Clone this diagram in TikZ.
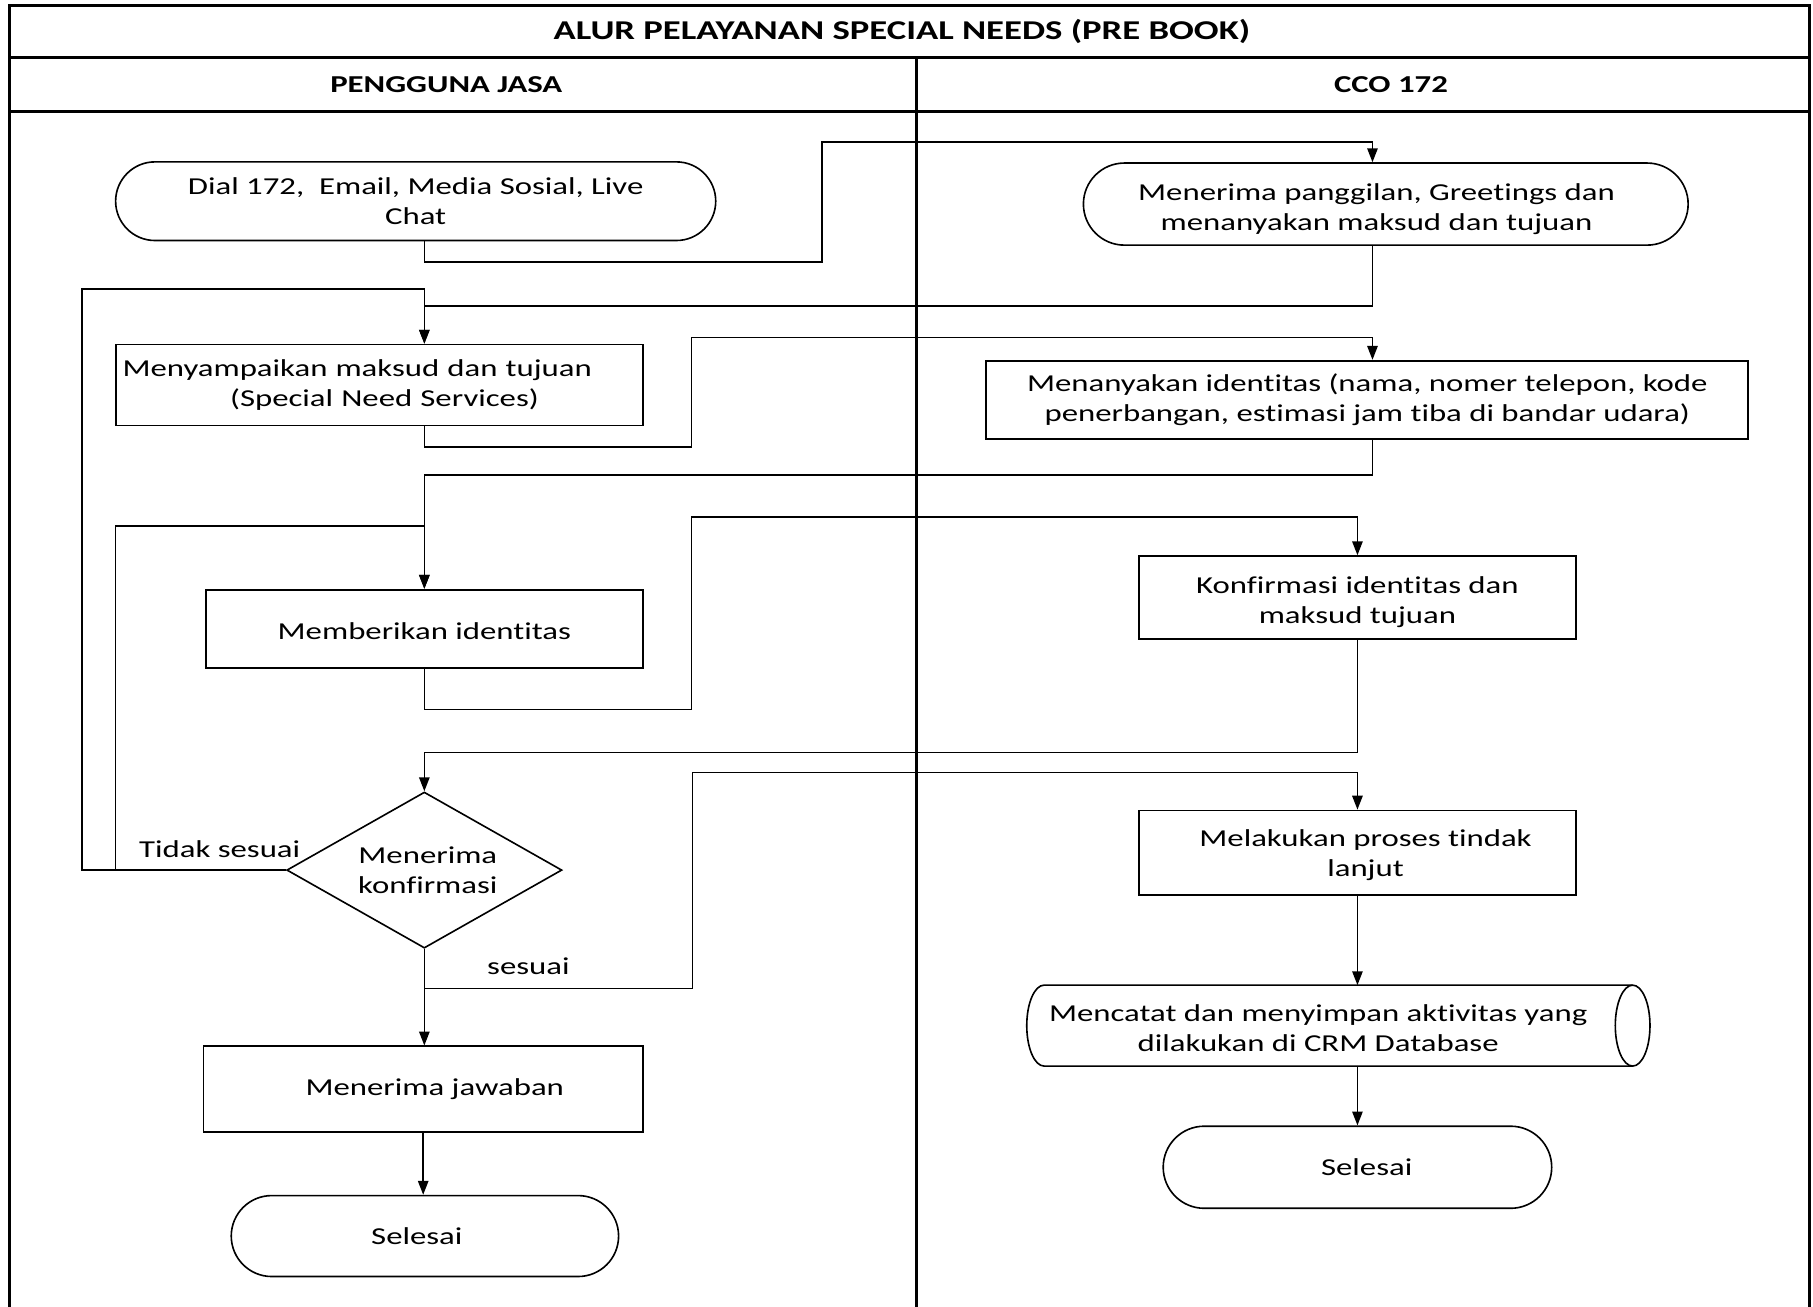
\documentclass[tikz,border=0pt]{standalone}
\usepackage{fontspec}
\setmainfont{Carlito}[FakeStretch=1.35,Ligatures=NoCommon]
\usetikzlibrary{arrows.meta,shapes.misc,shapes.geometric}
% lower a (possibly multi-line) label inside its box without changing the box
\newcommand\lowertext[2]{\raisebox{-#1}[\height][\depth]{\begin{tabular}{@{}c@{}}#2\end{tabular}}}

\begin{document}
\begin{tikzpicture}[x=1pt,y=-1pt,
  frame/.style={line width=2.6pt},
  conn/.style={line width=1.3pt},
  arr/.style={conn,-{Triangle[length=12pt,width=9pt]}},
  proc/.style={draw,line width=1.6pt,rectangle,inner sep=4pt,align=center},
  term/.style={draw,line width=1.4pt,rounded rectangle,inner sep=4pt,align=center},
  decide/.style={draw,line width=1.4pt,diamond,inner sep=0pt,align=center},
  lbl/.style={inner sep=0pt},
  hdr/.style={font=\fontsize{21}{26}\selectfont\bfseries},
  font=\fontsize{21}{26}\selectfont]

\useasboundingbox (0,0) rectangle (1568,1130);
\fill[white] (0,0) rectangle (1568,1130);
\clip (0,0) rectangle (1568,1130);

% swimlane frame
\draw[frame] (8,1140) -- (8,5) -- (1565,5) -- (1565,1140);
\draw[frame] (8,50) -- (1565,50);
\draw[frame] (8,96) -- (1565,96);
\draw[frame] (793,50) -- (793,1140);

\node[font=\fontsize{23.5}{28}\selectfont\bfseries] (title) at (780,27) {ALUR PELAYANAN SPECIAL NEEDS (PRE BOOK)};
\node[hdr] (laneA) at (386,73) {PENGGUNA JASA};
\node[hdr] (laneB) at (1203,73) {CCO 172};

% left lane
\node[term,minimum width=527pt,minimum height=68pt] (dial) at (359.5,174) {Dial 172,\ \ Email, Media Sosial, Live\\Chat};
\node[proc,text width=444pt,inner xsep=6pt,minimum height=70pt,align=left] (spec) at (328,333) {Menyampaikan maksud dan tujuan\\\hspace*{93pt}(Special Need Services)};
\node[proc,minimum width=378pt,minimum height=68pt] (ident) at (367,544) {\lowertext{4pt}{Memberikan identitas}};
\node[decide,aspect=1.76,minimum width=238pt,minimum height=135pt] (konf) at (367,752.5) {\lowertext{2pt}{\hspace*{6pt}Menerima\\\hspace*{6pt}konfirmasi}};
\node[proc,minimum width=380pt,minimum height=74pt] (jaw) at (366,942) {\hspace*{20pt}Menerima jawaban};
\node[term,minimum width=343pt,minimum height=70pt] (selL) at (367.5,1069) {Selesai\hspace*{14pt}};
\node[lbl] (tidak) at (190,734) {Tidak sesuai};
\node[lbl] (sesuai) at (457,836) {sesuai};

% right lane
\node[term,minimum width=531pt,minimum height=71pt] (recv) at (1198.5,176.5) {\hspace*{-16pt}\lowertext{5pt}{Menerima panggilan, Greetings dan\\menanyakan maksud dan tujuan}};
\node[proc,minimum width=659pt,minimum height=68pt] (ask) at (1182.5,346) {Menanyakan identitas (nama, nomer telepon, kode\\penerbangan, estimasi jam tiba di bandar udara)};
\node[proc,minimum width=378pt,minimum height=72pt] (conf) at (1174,517) {\lowertext{4pt}{Konfirmasi identitas dan\\maksud tujuan}};
\node[proc,minimum width=378pt,minimum height=73pt] (act) at (1174,737.5) {\hspace*{14pt}\lowertext{2pt}{Melakukan proses tindak\\lanjut}};
\node[inner sep=0pt,align=center] (store) at (1140,889) {Mencatat dan menyimpan aktivitas yang\\dilakukan di CRM Database};
\node[term,minimum width=344pt,minimum height=71pt] (selR) at (1174,1009.5) {\hspace*{16pt}Selesai};

% stored-data symbol around the record step
\draw[line width=1.4pt] (903,852) -- (1412,852)
  arc[start angle=90,end angle=-90,x radius=15pt,y radius=35pt] -- (903,922)
  arc[start angle=270,end angle=90,x radius=15pt,y radius=35pt] -- cycle;
\draw[line width=1.4pt] (1412,852) arc[start angle=90,end angle=270,x radius=15pt,y radius=35pt];
\coordinate (storetop) at (1174,852);
\coordinate (storebot) at (1174,922);

% connector columns
\coordinate (xL) at (367,0);
\coordinate (xA) at (1187,0);

\draw[arr] (dial.south -| xL) -- ++(0,18) -| (711,123) -| (recv.north -| xA);
\draw[arr] (recv.south -| xA) -- ++(0,52) -| (spec.north -| xL);
\draw[arr] (konf.west) -| (71,250) -| (spec.north -| xL);
\draw[arr] (konf.west) -| (100,455) -| (ident.north -| xL);
\draw[arr] (spec.south -| xL) -- ++(0,18) -| (598,292) -| (ask.north -| xA);
\draw[arr] (ask.south -| xA) -- ++(0,30) -| (ident.north -| xL);
\draw[arr] (ident.south) -- ++(0,35) -| (598,447) -| (conf.north);
\draw[arr] (conf.south) -- ++(0,97) -| (konf.north);
\draw[arr] (konf.south) -- ++(0,34) -| (599,668) -| (act.north);
\draw[arr] (konf.south) -- (konf.south |- jaw.north);
\draw[arr] (jaw.south) -- (jaw.south |- selL.north);
\draw[arr] (act.south) -- (storetop);
\draw[arr] (storebot) -- (selR.north);
\end{tikzpicture}
\end{document}
